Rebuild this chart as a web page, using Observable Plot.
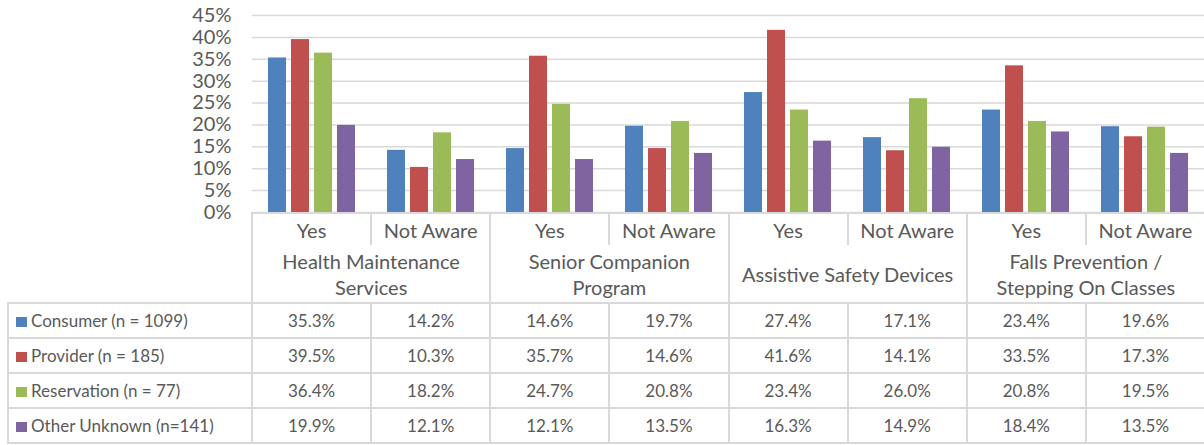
<!DOCTYPE html>
<html>
<head>
<meta charset="utf-8">
<script src="https://cdn.jsdelivr.net/npm/d3@7"></script>
<script src="https://cdn.jsdelivr.net/npm/@observablehq/plot@0.6"></script>
<style>
  html, body { margin: 0; padding: 0; background: #fff; }
  #wrap { position: relative; width: 1204px; height: 445px; overflow: hidden; font-family: Lato, "Noto Sans", sans-serif; color: #595959; }
  #chart { position: absolute; left: 0; top: 0; }
  table { position: absolute; left: 7px; top: 212px; border-collapse: collapse; table-layout: fixed; width: 1197px; }
  td { padding: 0; text-align: center; vertical-align: middle; border: 2px solid #d9d9d9; color: #595959; }
  td.blank { border: none; }
  tr.sub td { height: 31px; font-size: 20px; border-bottom: none; }
  tr.cat td { height: 57px; font-size: 20px; line-height: 26px; border-top: none; white-space: pre-line; }
  tr.data td { height: 33px; font-size: 17px; }
  td.name { text-align: left; padding-left: 7px; white-space: nowrap; }
  .key { display: inline-block; width: 11px; height: 10px; margin-right: 4px; vertical-align: 0px; }
</style>
</head>
<body>
<div id="wrap">
  <div id="chart"></div>
</div>
<script>
const categories = ["Health Maintenance\nServices", "Senior Companion\nProgram", "Assistive Safety Devices", "Falls Prevention /\nStepping On Classes"];
const subcats = ["Yes", "Not Aware"];
const series = ["Consumer (n = 1099)", "Provider (n = 185)", "Reservation (n = 77)", "Other Unknown (n=141)"];
const colors = ["#4F81BD", "#C0504D", "#9BBB59", "#8064A2"];
const consumer    = [35.3, 14.2, 14.6, 19.7, 27.4, 17.1, 23.4, 19.6];
const provider    = [39.5, 10.3, 35.7, 14.6, 41.6, 14.1, 33.5, 17.3];
const reservation = [36.4, 18.2, 24.7, 20.8, 23.4, 26.0, 20.8, 19.5];
const other       = [19.9, 12.1, 12.1, 13.5, 16.3, 14.9, 18.4, 13.5];
const yTicks = [0, 5, 10, 15, 20, 25, 30, 35, 40, 45];

const seriesValues = [consumer, provider, reservation, other];
const columns = categories.flatMap(c => subcats.map(s => c + "|" + s));
const rows = [];
seriesValues.forEach((vals, i) => vals.forEach((v, j) => rows.push({col: columns[j], series: series[i], value: v})));

const chart = Plot.plot({
  width: 1204,
  height: 232,
  marginLeft: 251,
  marginRight: 0,
  marginTop: 15,
  marginBottom: 20,
  style: {fontFamily: "Lato, 'Noto Sans', sans-serif", fontSize: "20px", color: "#595959", background: "transparent"},
  fx: {domain: columns, padding: 0, axis: null},
  x: {domain: series, paddingInner: 5 / 24, paddingOuter: 0.585, axis: null},
  y: {domain: [0, 45], ticks: yTicks, tickFormat: d => d + "%", tickSize: 0, tickPadding: 21, label: null},
  color: {domain: series, range: colors},
  marks: [
    Plot.gridY(yTicks, {stroke: "#d9d9d9", strokeOpacity: 1, strokeWidth: 1.5}),
    Plot.barY(rows, {fx: "col", x: "series", y: "value", fill: "series"})
  ]
});
document.getElementById("chart").appendChild(chart);

// data table below the chart
const table = document.createElement("table");
const colgroup = document.createElement("colgroup");
[244, ...columns.map(() => 953 / columns.length)].forEach(w => {
  const c = document.createElement("col"); c.style.width = w + "px"; colgroup.appendChild(c);
});
table.appendChild(colgroup);

const trSub = document.createElement("tr"); trSub.className = "sub";
const b1 = document.createElement("td"); b1.className = "blank"; trSub.appendChild(b1);
columns.forEach(c => { const td = document.createElement("td"); td.textContent = c.split("|")[1]; trSub.appendChild(td); });
table.appendChild(trSub);

const trCat = document.createElement("tr"); trCat.className = "cat";
const b2 = document.createElement("td"); b2.className = "blank"; trCat.appendChild(b2);
categories.forEach(c => { const td = document.createElement("td"); td.colSpan = subcats.length; td.textContent = c; trCat.appendChild(td); });
table.appendChild(trCat);

seriesValues.forEach((vals, i) => {
  const tr = document.createElement("tr"); tr.className = "data";
  const name = document.createElement("td"); name.className = "name";
  const key = document.createElement("span"); key.className = "key"; key.style.background = colors[i];
  name.appendChild(key); name.appendChild(document.createTextNode(series[i]));
  tr.appendChild(name);
  vals.forEach(v => { const td = document.createElement("td"); td.textContent = v.toFixed(1) + "%"; tr.appendChild(td); });
  table.appendChild(tr);
});
document.getElementById("wrap").appendChild(table);
</script>
</body>
</html>
